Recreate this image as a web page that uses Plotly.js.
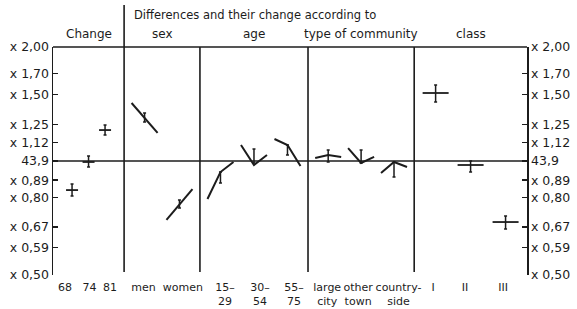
<!DOCTYPE html>
<html><head><meta charset="utf-8">
<script src="https://cdn.plot.ly/plotly-3.0.1.min.js"></script>
<style>html,body{margin:0;padding:0;background:#fff}#chart{width:577px;height:309px}</style>
</head><body><div id="chart"></div>
<script>
// ---------------- data ----------------
const mainTitle = 'Differences and their change according to';
const panelTitles = ['Change', 'sex', 'age', 'type of community', 'class'];
const panelCounts = [3, 2, 3, 3, 3];

// overall change (multiplier relative to 43,9)
const changeCats = ['68', '74', '81'];
const changeLevel = [0.838, 0.994, 1.207];
const changeLow = [0.808, 0.964, 1.171];
const changeHigh = [0.869, 1.031, 1.245];

// subgroups: sex, age, type of community (trend 68 -> 74 -> 81)
const subCats = ['men', 'women', '15–<br>29', '30–<br>54', '55–<br>75', 'large<br>city', 'other<br>town', 'country-<br>side'];
const trend68 = [1.423, 0.699, 0.794, 1.102, 1.143, 1.018, 1.082, 0.930];
const trend74 = [1.299, 0.768, 0.935, 0.976, 1.102, 1.037, 0.988, 0.994];
const trend81 = [1.186, 0.843, 0.994, 1.037, 0.970, 1.025, 1.025, 0.964];
const subLow = [1.268, 0.751, 0.875, 0.988, 1.037, 0.994, 0.988, 0.907];
const subHigh = [1.339, 0.789, 0.935, 1.076, 1.102, 1.069, 1.069, 0.994];

// class
const classCats = ['I', 'II', 'III'];
const classLevel = [1.512, 0.976, 0.690];
const classLow = [1.431, 0.935, 0.661];
const classHigh = [1.587, 1.000, 0.716];

// y axis ticks
const yTickVals = [0.50, 0.59, 0.67, 0.80, 0.89, 1.00, 1.12, 1.25, 1.50, 1.70, 2.00];
const yTickText = ['x 0,50', 'x 0,59', 'x 0,67', 'x 0,80', 'x 0,89', '43,9', 'x 1,12', 'x 1,25', 'x 1,50', 'x 1,70', 'x 2,00'];

// ---------------- layout helpers ----------------
const plotW = 474;                       // plot width in px (for px -> axis fraction)
const panelEdges = [0, 0.150, 0.310, 0.538, 0.762, 1];
const panelInset = [0.268, 0.27, 0.19, 0.19, 0.19];
const labelNudgePx = [-7, 1, 5, -1, 3.5, 4.5, 6, 6.5, -1, -3, 4.5, -2.5, -5.5, -2.5];
const trendHalf = 13 / plotW;   // half width of trend polylines / class bars
const crossHalf = 6 / plotW;    // half width of Change crosses
const ink = '#1c1c1c';
const font = 'DejaVu Sans';

const centers = [];
panelCounts.forEach((n, p) => {
  const a = panelEdges[p], w = panelEdges[p + 1] - a, ins = panelInset[p];
  for (let i = 0; i < n; i++) centers.push(a + w * (ins + (1 - 2 * ins) * (n > 1 ? i / (n - 1) : 0.5)));
});
const labelPos = centers.map((c, i) => c + labelNudgePx[i] / plotW);
const changeX = centers.slice(0, 3);
const subX = centers.slice(3, 11);
const classX = centers.slice(11, 14);
const allLabels = changeCats.concat(subCats, classCats);

// trend polylines
const tx = [], ty = [];
subX.forEach((c, i) => {
  tx.push(c - trendHalf, c, c + trendHalf, null);
  ty.push(trend68[i], trend74[i], trend81[i], null);
});
// level bars
const lx = [], ly = [];
changeX.forEach((c, i) => { lx.push(c - crossHalf, c + crossHalf, null); ly.push(changeLevel[i], changeLevel[i], null); });
classX.forEach((c, i) => { lx.push(c - trendHalf, c + trendHalf, null); ly.push(classLevel[i], classLevel[i], null); });
// error bars
const ex = changeX.concat(subX, classX);
const eLow = changeLow.concat(subLow, classLow);
const eHigh = changeHigh.concat(subHigh, classHigh);

const traces = [
  {x: tx, y: ty, mode: 'lines', line: {color: ink, width: 2}, hoverinfo: 'skip', showlegend: false},
  {x: lx, y: ly, mode: 'lines', line: {color: ink, width: 1.8}, hoverinfo: 'skip', showlegend: false},
  {x: ex, y: eLow, mode: 'markers', marker: {size: 1, color: 'rgba(0,0,0,0)'},
   error_y: {type: 'data', symmetric: false, array: eHigh.map((h, i) => h - eLow[i]), arrayminus: eLow.map(() => 0),
             color: ink, thickness: 1.5, width: 1.5}, hoverinfo: 'skip', showlegend: false},
  {x: [0.5], y: [1], yaxis: 'y2', mode: 'markers', marker: {size: 1, color: 'rgba(0,0,0,0)'}, hoverinfo: 'skip', showlegend: false}
];

const yRange = [Math.log10(0.5), Math.log10(2)];
const refFrac = (Math.log10(1) - yRange[0]) / (yRange[1] - yRange[0]);   // 43,9 reference level
const yAxisBase = {
  type: 'log', range: yRange, autorange: false, tickmode: 'array', tickvals: yTickVals, ticktext: yTickText,
  showline: true, linecolor: ink, linewidth: 1.5, ticks: 'inside', ticklen: 5, tickwidth: 1.4, tickcolor: ink,
  showgrid: false, zeroline: false, fixedrange: true, tickfont: {family: font, size: 12.5, color: ink}
};

const shapes = [
  {type: 'line', xref: 'paper', yref: 'paper', x0: 0, x1: 1, y0: refFrac, y1: refFrac, line: {color: ink, width: 1.6}},
  {type: 'line', xref: 'paper', yref: 'paper', x0: 0, x1: 1, y0: 1, y1: 1, line: {color: ink, width: 1.6}}
];
panelEdges.slice(1, 5).forEach((e, k) => {
  shapes.push({type: 'line', xref: 'x', yref: 'paper', x0: e, x1: e, y0: 0.013, y1: k === 0 ? 1.184 : 1, line: {color: ink, width: 1.6}});
});

const annotations = panelTitles.map((t, p) => ({
  text: t, xref: 'x', yref: 'paper', x: (panelEdges[p] + panelEdges[p + 1]) / 2, y: 1.059,
  xanchor: 'center', yanchor: 'middle', showarrow: false, font: {family: font, size: 12, color: ink}
}));
annotations.push({text: mainTitle, xref: 'x', yref: 'paper', x: panelEdges[1] + 0.017, y: 1.14,
  xanchor: 'left', yanchor: 'middle', showarrow: false, font: {family: font, size: 11.5, color: ink}});

const layout = {
  width: 577, height: 309, margin: {l: 53, r: 50, t: 47, b: 34},
  paper_bgcolor: '#ffffff', plot_bgcolor: '#ffffff', showlegend: false,
  font: {family: font, color: ink},
  xaxis: {range: [0, 1], autorange: false, tickmode: 'array', tickvals: labelPos, ticktext: allLabels,
          showline: false, ticks: '', showgrid: false, zeroline: false, fixedrange: true, ticklabelstandoff: 4,
          tickfont: {family: font, size: 11, color: ink}, tickangle: 0},
  yaxis: Object.assign({}, yAxisBase, {side: 'left'}),
  yaxis2: Object.assign({}, yAxisBase, {side: 'right', overlaying: 'y'}),
  shapes: shapes, annotations: annotations
};

Plotly.newPlot('chart', traces, layout, {staticPlot: true, displayModeBar: false});
</script>
</body></html>
